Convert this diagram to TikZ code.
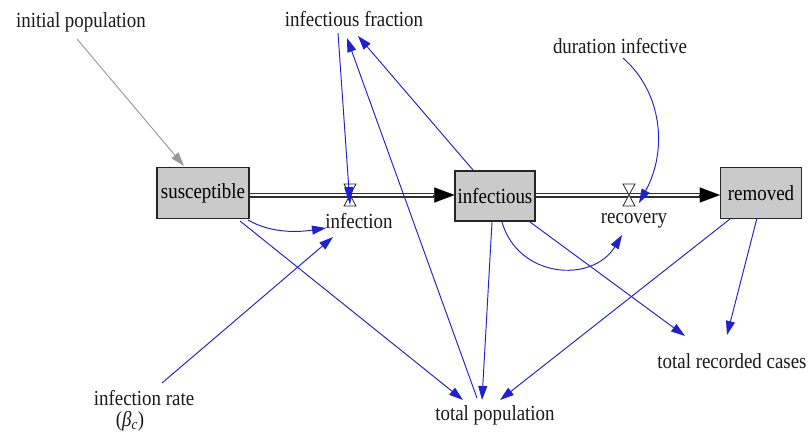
\documentclass[tikz,border=0pt]{standalone}
\usepackage{fontspec}
\setmainfont{Liberation Serif}[FakeStretch=0.88]
\usetikzlibrary{arrows.meta,calc}
\definecolor{linkblue}{HTML}{2020CC}
\definecolor{boxgray}{HTML}{CACACA}
\definecolor{pipegray}{HTML}{303030}
\begin{document}
\begin{tikzpicture}[x=1pt,y=-1pt,
  lbl/.style={inner sep=0pt,font=\fontsize{21.5}{24}\selectfont,text=black!90},
  stock/.style={draw=black!85,line width=1.2pt,fill=boxgray,inner sep=0pt,font=\fontsize{21.5}{24}\selectfont},
  link/.style={draw=linkblue,line width=0.95pt,-{Triangle[length=14pt,width=9pt]},fill=none},
  glink/.style={draw=black!40,line width=0.95pt,-{Triangle[length=14pt,width=9pt]}},
  pipe/.style={draw=pipegray,double=white,double distance=2.6pt,line width=1.2pt},
  pipehead/.style={draw=black,line width=0.1pt,-{Triangle[length=20pt,width=15pt]}},
  valve/.style={draw=black!85,fill=white,line width=0.8pt}]
\useasboundingbox (0,0) rectangle (809,432);

% stocks
\node[stock,minimum width=92pt,minimum height=51pt] (sus) at (203,193) {susceptible};
\node[stock,minimum width=80pt,minimum height=50pt] (inf) at (495,196) {infectious};
\node[stock,minimum width=81pt,minimum height=51pt] (rem) at (761,193) {removed};

% labels
\node[lbl] (initpop) at (81,22) {initial population};
\node[lbl] (frac) at (354,19) {infectious fraction};
\node[lbl] (dur) at (620,46) {duration infective};
\node[lbl] (infl) at (359,221) {infection};
\node[lbl] (recl) at (634,221) {recovery};
\node[lbl] (irate) at (144,398) {infection rate};
\node[lbl] (beta) at (130,421) {(\textit{β}\textsubscript{\textit{c}})};
\node[lbl] (totpop) at (495,415) {total population};
\node[lbl] (totrec) at (732,361) {total recorded cases};

% valves positions
\coordinate (v1) at (350,195);
\coordinate (v2) at (629,195);

% pipes
\draw[pipe] (sus.east |- v1) -- ($(inf.west |- v1)+(-20,0)$);
\draw[pipehead] ($(inf.west |- v1)+(-21,0)$) -- (inf.west |- v1);
\draw[pipe] (inf.east |- v2) -- ($(rem.west |- v2)+(-20,0)$);
\draw[pipehead] ($(rem.west |- v2)+(-21,0)$) -- (rem.west |- v2);

% valves
\draw[valve] ($(v1)+(-6,-11)$) -- ($(v1)+(6,-11)$) -- ($(v1)+(-6,11)$) -- ($(v1)+(6,11)$) -- cycle;
\draw[valve] ($(v2)+(-6,-11)$) -- ($(v2)+(6,-11)$) -- ($(v2)+(-6,11)$) -- ($(v2)+(6,11)$) -- cycle;

% endpoints
\coordinate (ip1) at (77,39);
\coordinate (sustop) at (184,166);
\coordinate (fr1) at (338,33);
\coordinate (v1in) at (350,205);
\coordinate (frin1) at (347,38);
\coordinate (frin2) at (358,36);
\coordinate (inftop) at (473,170);
\coordinate (tp1) at (477,398);
\coordinate (susb1) at (248,220);
\coordinate (inflin1) at (326,228);
\coordinate (ir1) at (162,383);
\coordinate (inflin2) at (333,237);
\coordinate (susb2) at (240,221);
\coordinate (tpin1) at (463,400);
\coordinate (infb1) at (492,222);
\coordinate (tpin2) at (482,400);
\coordinate (infb2) at (502,222);
\coordinate (reclin) at (622,235);
\coordinate (infb3) at (530,222);
\coordinate (trin1) at (685,336);
\coordinate (remb1) at (730,219);
\coordinate (tpin3) at (500,400);
\coordinate (remb2) at (757,218);
\coordinate (trin2) at (727,335);
\coordinate (du1) at (623,58);
\coordinate (v2in) at (639,203);

% connectors
\draw[glink] (ip1) -- (sustop);
\draw[link,-{Triangle[length=18pt,width=9pt]}] (fr1) -- (v1in);
\draw[link] (inftop) -- (frin2);
\draw[link] (tp1) -- (frin1);
\draw[link] (susb1) .. controls (272,234) and (300,232) .. (inflin1);
\draw[link] (ir1) -- (inflin2);
\draw[link] (susb2) -- (tpin1);
\draw[link] (infb1) -- (tpin2);
\draw[link] (infb2) .. controls (518,278) and (592,284) .. (reclin);
\draw[link] (infb3) -- (trin1);
\draw[link] (remb1) -- (tpin3);
\draw[link] (remb2) -- (trin2);
\draw[link] (du1) .. controls (662,92) and (668,150) .. (v2in);
\end{tikzpicture}
\end{document}
